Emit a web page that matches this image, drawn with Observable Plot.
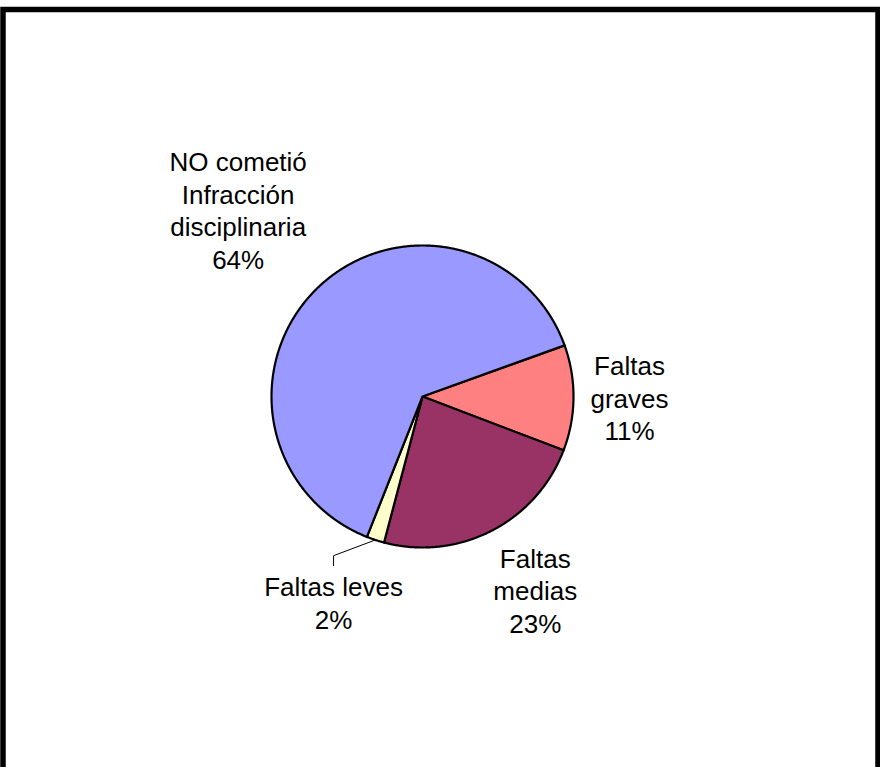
<!DOCTYPE html>
<html><head><meta charset="utf-8">
<script src="https://cdn.jsdelivr.net/npm/d3@7"></script>
<script src="https://cdn.jsdelivr.net/npm/@observablehq/plot@0.6"></script>
<style>html,body{margin:0;padding:0;background:#fff}</style>
</head><body><div id="chart"></div>
<script>
// ---- data ----
const categories = ["Faltas graves", "Faltas medias", "Faltas leves", "NO cometió Infracción disciplinaria"];
const labelLines = [["Faltas", "graves"], ["Faltas", "medias"], ["Faltas leves"], ["NO cometió", "Infracción", "disciplinaria"]];
const values = [11.3, 23.3, 1.9, 63.5];
const colors = ["#FF8080", "#993366", "#FFFFCC", "#9999FF"];

// ---- layout ----
const W = 880, H = 767;
const cx = 422, cy = 396, R = 151;
const startDeg = 70.2;                       // clockwise from 12 o'clock
const labelRadiusPx = [207, 225, 225, 261.6];
const labelShiftDeg = [0, -2.9, 5.1, -0.7];
const leaderIndex = 2;

const total = d3.sum(values);
const rad = d => d * Math.PI / 180;
const polar = (deg, r) => ({x: r * Math.sin(rad(deg)), y: r * Math.cos(rad(deg))});

const slices = [];
let a = startDeg;
values.forEach((v, i) => {
  const span = v / total * 360;
  slices.push({name: categories[i], value: v, a0: a, a1: a + span, mid: a + span / 2, i});
  a += span;
});

const slicePts = [];
for (const s of slices) {
  slicePts.push({name: s.name, x: 0, y: 0});
  const n = Math.max(2, Math.ceil((s.a1 - s.a0) / 0.25));
  for (let k = 0; k <= n; k++) {
    const p = polar(s.a0 + (s.a1 - s.a0) * k / n, 1);
    slicePts.push({name: s.name, x: p.x, y: p.y});
  }
}

const labels = slices.map(s => {
  const p = polar(s.mid + labelShiftDeg[s.i], labelRadiusPx[s.i] / R);
  return {x: p.x, y: p.y, text: [...labelLines[s.i], Math.round(s.value / total * 100) + "%"].join("\n")};
});

const ls = slices[leaderIndex], ll = labels[leaderIndex];
const p1 = polar(ls.mid, 1);
const leader = [
  {x: p1.x, y: p1.y},
  {x: ll.x, y: ll.y + 47.5 / R},
  {x: ll.x, y: ll.y + 37.5 / R}
];

const chart = Plot.plot({
  width: W, height: H,
  margin: 0,
  style: {background: "#fff", fontFamily: "'Liberation Sans', Arial, sans-serif"},
  x: {domain: [-1, 1], range: [cx - R, cx + R], axis: null},
  y: {domain: [-1, 1], range: [cy + R, cy - R], axis: null},
  color: {domain: categories, range: colors},
  marks: [
    Plot.line(slicePts, {x: "x", y: "y", z: "name", fill: "name", stroke: "black", strokeWidth: 2.2, curve: "linear-closed", strokeLinejoin: "round"}),
    Plot.line(leader, {x: "x", y: "y", stroke: "black", strokeWidth: 1, strokeLinejoin: "miter"}),
    Plot.text(labels, {x: "x", y: "y", text: "text", fill: "black", fontSize: 26, lineHeight: 1.258, lineAnchor: "middle", textAnchor: "middle", dy: -1.2, fontFamily: "'Liberation Sans', Arial, sans-serif"}),
    Plot.frame({stroke: "black", strokeWidth: 5.5, insetLeft: 2.5, insetRight: 2.5, insetTop: 9, insetBottom: -10})
  ]
});
document.getElementById("chart").append(chart);
</script>
</body></html>
